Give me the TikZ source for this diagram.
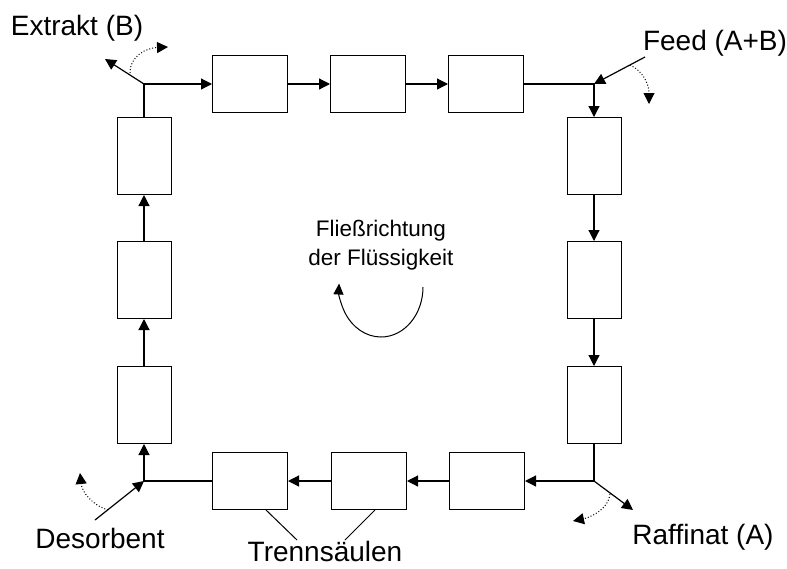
\documentclass[tikz,border=0pt]{standalone}
\usepackage{fontspec}
\setmainfont{Liberation Sans}
\usetikzlibrary{arrows.meta}
\begin{document}
\begin{tikzpicture}[x=1pt,y=-1pt,
  col/.style={draw,line width=1pt,inner sep=0pt,minimum width=75pt,minimum height=57pt},
  vcol/.style={draw,line width=1pt,inner sep=0pt,minimum width=54pt,minimum height=77pt},
  flow/.style={line width=1.2pt,-{Triangle[length=11pt,width=11pt]}},
  pipe/.style={line width=1.2pt},
  portmove/.style={dotted,line width=1pt,-{Triangle[length=11pt,width=11pt]}},
  lbl/.style={font=\fontsize{28}{32}\selectfont,inner sep=0pt},
  mid/.style={font=\fontsize{22.5}{29}\selectfont,inner sep=0pt,align=center}]
\useasboundingbox (0,0) rectangle (787,568);

% columns, top row (left to right)
\node[col] (T1) at (250,84) {};
\node[col] (T2) at (368,84) {};
\node[col] (T3) at (486,84) {};
% right column (top to bottom)
\node[vcol] (R1) at (594,156) {};
\node[vcol] (R2) at (594,280) {};
\node[vcol] (R3) at (594,405) {};
% bottom row (left to right)
\node[col] (B1) at (250,481) {};
\node[col] (B2) at (369,481) {};
\node[col] (B3) at (487,481) {};
% left column (top to bottom)
\node[vcol] (L1) at (144,156) {};
\node[vcol] (L2) at (144,280) {};
\node[vcol] (L3) at (144,405) {};

% ring corners
\coordinate (cTL) at (144,84);
\coordinate (cTR) at (594,84);
\coordinate (cBR) at (594,481);
\coordinate (cBL) at (144,481);

% liquid flow around the ring
\draw[flow] (cTL) -- (T1.west);
\draw[flow] (T1.east) -- (T2.west);
\draw[flow] (T2.east) -- (T3.west);
\draw[flow] (T3.east) -- (cTR) -- (R1.north);
\draw[flow] (R1.south) -- (R2.north);
\draw[flow] (R2.south) -- (R3.north);
\draw[flow] (R3.south) -- (cBR) -- (B3.east);
\draw[flow] (B3.west) -- (B2.east);
\draw[flow] (B2.west) -- (B1.east);
\draw[flow] (B1.west) -- (cBL) -- (L3.south);
\draw[flow] (L3.north) -- (L2.south);
\draw[flow] (L2.north) -- (L1.south);
\draw[pipe] (L1.north) -- (cTL);

% inlets and outlets
\coordinate (exEnd) at (105,59);
\coordinate (feedStart) at (645,57);
\coordinate (desStart) at (95,520);
\coordinate (rafEnd) at (633,510);
\draw[flow] (cTL) -- (exEnd);
\draw[flow] (feedStart) -- (cTR);
\draw[flow] (desStart) -- (cBL);
\draw[flow] (cBR) -- (rafEnd);

% switching direction of the ports
\draw[portmove] (130,73) .. controls (130,56) and (146,48) .. (168,47);
\draw[portmove] (630,65) .. controls (643,71) and (649,84) .. (649,104);
\draw[portmove] (108,510) .. controls (92,505) and (82,492) .. (80,473);
\draw[portmove] (610,494) .. controls (609,508) and (592,517) .. (573,521);

% labels
\node[lbl] (extrakt) at (77,28) {Extrakt (B)};
\node[lbl] (feed) at (715,43) {Feed (A+B)};
\node[lbl] (desorbent) at (100,538) {Desorbent};
\node[lbl] (raffinat) at (703,537) {Raffinat (A)};
\node[lbl] (trenn) at (325,551) {Trennsäulen};
\coordinate (tA) at (266,510);
\coordinate (tB) at (375,510);
\draw[line width=1pt] (tA) -- (297,540);
\draw[line width=1pt] (tB) -- (345,540);

% flow direction in the middle
\node[mid] (dir) at (381,245) {Fließrichtung\\der Flüssigkeit};
\draw[line width=1pt,-{Triangle[length=11pt,width=10pt]}]
  (423,287) arc[x radius=42,y radius=50,start angle=0,end angle=184];
\end{tikzpicture}
\end{document}
